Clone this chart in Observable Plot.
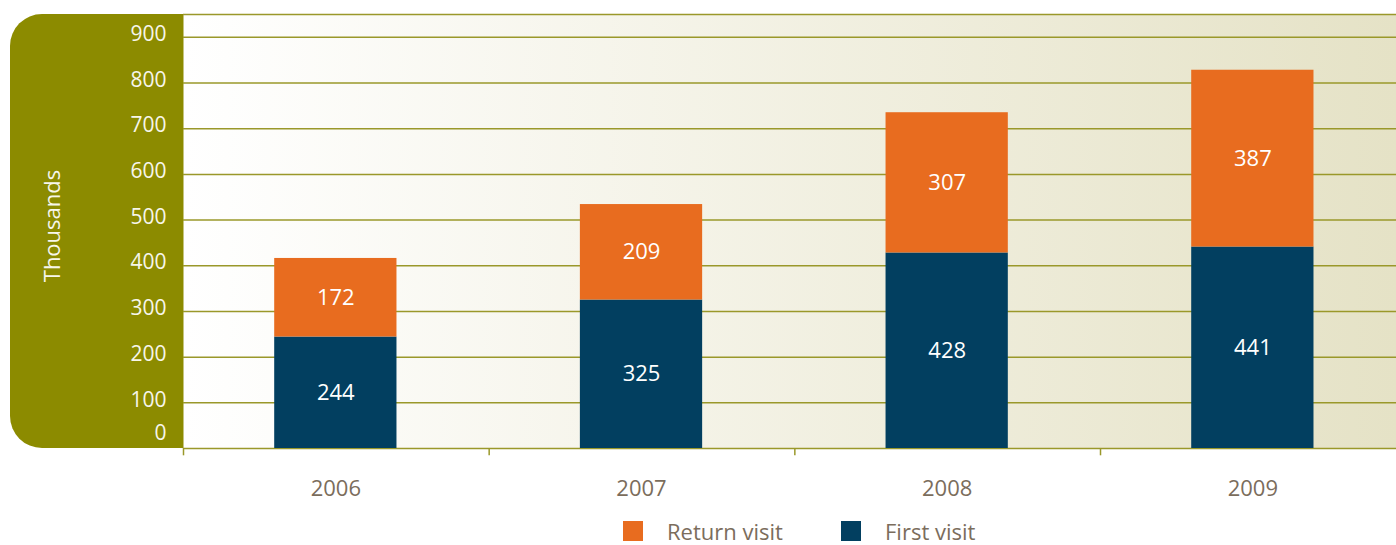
<!DOCTYPE html>
<html>
<head>
<meta charset="utf-8">
<script src="https://cdn.jsdelivr.net/npm/d3@7"></script>
<script src="https://cdn.jsdelivr.net/npm/@observablehq/plot@0.6"></script>
<style>
  html, body { margin: 0; padding: 0; background: #fff; overflow: hidden; }
  body { width: 1396px; height: 545px; font-family: "Open Sans", sans-serif; }
  #legend { position: relative; height: 30px; }
  .item { position: absolute; top: 3px; display: flex; align-items: center; color: #7b6d5c; font-size: 22px; line-height: 26px; }
  .sw { width: 20px; height: 20px; margin-right: 24px; }
</style>
</head>
<body>
<div id="chart"></div>
<div id="legend"></div>
<script>
const years = ["2006", "2007", "2008", "2009"];
const firstVisit = [244, 325, 428, 441];
const returnVisit = [172, 209, 307, 387];
const seriesNames = ["First visit", "Return visit"];
const seriesColors = ["#023f60", "#e86c1f"];
const yTicks = [100, 200, 300, 400, 500, 600, 700, 800, 900];
const yMax = 950;

const data = [];
years.forEach((y, i) => {
  data.push({year: y, type: "First visit", value: firstVisit[i]});
  data.push({year: y, type: "Return visit", value: returnVisit[i]});
});

const W = 1396, H = 515;
const mLeft = 183, mTop = 14, yBottom = 448;
const step = 305.67;
const x0 = 182.5;
const grid = "#9a982a";

const plot = Plot.plot({
  width: W,
  height: H,
  marginLeft: mLeft,
  marginRight: 0,
  marginTop: mTop,
  marginBottom: H - yBottom,
  style: {fontFamily: "Open Sans, sans-serif", overflow: "visible"},
  x: {type: "band", domain: years, range: [x0, x0 + 4 * step], round: false, paddingInner: 0.6, paddingOuter: 0.3, axis: null},
  y: {domain: [0, yMax], axis: null},
  color: {domain: seriesNames, range: seriesColors},
  marks: [
    Plot.frame({fill: "url(#bggrad)", stroke: null}),
    Plot.ruleY([0, ...yTicks, yMax], {stroke: grid, strokeWidth: 1.5}),
    Plot.ruleX(years, {x: d => d, dx: -step / 2 + 0.5, y1: 0, y2: -16, stroke: grid, strokeWidth: 1.5}),
    Plot.barY(data, {x: "year", y: "value", fill: "type"}),
    Plot.text(data, Plot.stackY({x: "year", y: "value", z: "type", text: d => String(d.value), fill: "white", fontSize: 22})),
    Plot.axisY(yTicks, {tickSize: 0, tickPadding: 17, dy: -3, fill: "#f7f6ea", fontSize: 21, textAnchor: "end", label: null}),
    Plot.axisY([0], {tickSize: 0, tickPadding: 17, dy: -15, fill: "#f7f6ea", fontSize: 21, textAnchor: "end", label: null}),
    Plot.axisX({tickSize: 0, tickPadding: 32, fill: "#7b6d5c", fontSize: 22, label: null})
  ]
});

const svg = d3.select(plot);
const defs = svg.insert("defs", ":first-child");
const g = defs.append("linearGradient").attr("id", "bggrad").attr("x1", "0").attr("x2", "1").attr("y1", "0").attr("y2", "0");
g.append("stop").attr("offset", "0%").attr("stop-color", "#ffffff");
g.append("stop").attr("offset", "100%").attr("stop-color", "#e5e2c6");
// olive panel behind the frame
svg.insert("rect", "defs + *")
  .attr("x", 10).attr("y", mTop).attr("width", mLeft + 40 - 10).attr("height", yBottom - mTop)
  .attr("rx", 32).attr("ry", 32).attr("fill", "#8c8b00");
svg.append("text")
  .attr("transform", `translate(60,${(mTop + yBottom) / 2 - 5}) rotate(-90)`)
  .attr("text-anchor", "middle")
  .attr("fill", "#f7f6ea").attr("font-size", 22)
  .text("Thousands");

document.getElementById("chart").appendChild(plot);

const legend = document.getElementById("legend");
[["Return visit", seriesColors[1], 623], ["First visit", seriesColors[0], 841]].forEach(([name, color, x]) => {
  const it = document.createElement("div");
  it.className = "item";
  it.style.left = x + "px";
  it.innerHTML = `<div class="sw" style="background:${color}"></div><span>${name}</span>`;
  legend.appendChild(it);
});
</script>
</body>
</html>
